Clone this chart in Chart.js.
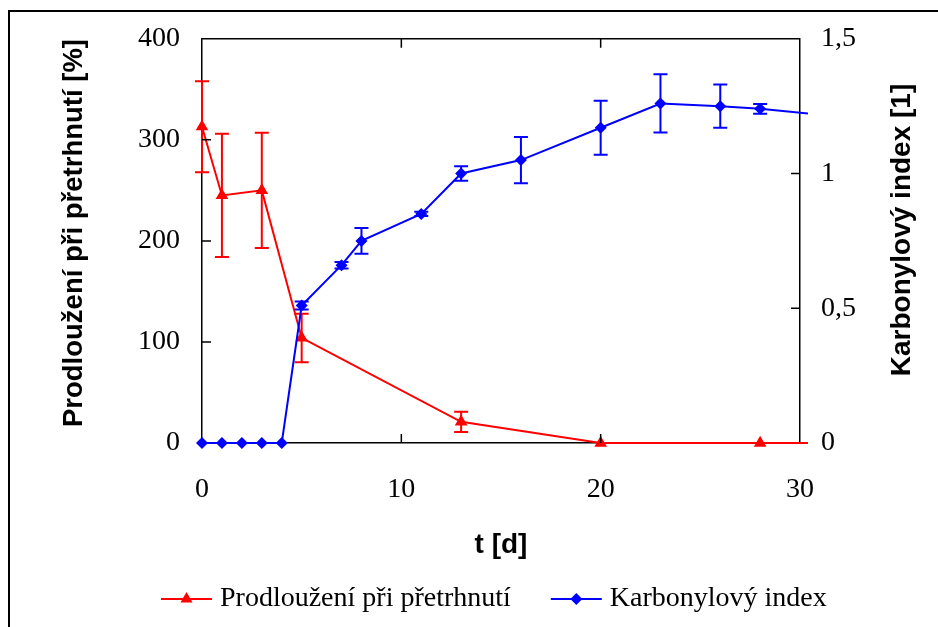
<!DOCTYPE html>
<html>
<head>
<meta charset="utf-8">
<script src="https://cdn.jsdelivr.net/npm/chart.js@4.4.0/dist/chart.umd.min.js"></script>
<style>
  html, body { margin: 0; padding: 0; background: #fff; }
</style>
</head>
<body>
<canvas id="graf" width="938" height="627"></canvas>
<script>
// prodlouzeni pri pretrhnuti [%]
const dnyProdlouzeni = [0, 1, 3, 5, 13, 20, 28, 35];
const prodlouzeni = [313, 245, 250, 104, 21, 0, 0, 0];
const prodlouzeniChyba = [45, 61, 57, 24, 10, 0, 0, 0];

// karbonylovy index [1]
const dnyKarbonyl = [0, 1, 2, 3, 4, 5, 7, 8, 11, 13, 16, 20, 23, 26, 28, 35];
const karbonyl = [0, 0, 0, 0, 0, 0.51, 0.66, 0.75, 0.85, 1.0, 1.05, 1.17, 1.26, 1.25, 1.24, 1.19];
const karbonylChyba = [0, 0, 0, 0, 0, 0.015, 0.012, 0.048, 0.008, 0.027, 0.086, 0.10, 0.108, 0.08, 0.018, 0];

const xTicks = [0, 10, 20, 30];
const levyTicks = [0, 100, 200, 300, 400];
const pravyTicks = [0, 0.5, 1, 1.5];

const nazevRed = "Prodloužení při přetrhnutí";
const nazevBlue = "Karbonylový index";

const serif = "'Liberation Serif', 'Times New Roman', serif";
const sans = "'Liberation Sans', Arial, sans-serif";

function body(xs, ys) {
  return xs.map((x, i) => ({ x: x, y: ys[i] }));
}

const chyby = [prodlouzeniChyba, karbonylChyba];

const doplnky = {
  id: "doplnky",
  beforeDraw(chart) {
    const ctx = chart.ctx;
    ctx.save();
    ctx.fillStyle = "#fff";
    ctx.fillRect(0, 0, chart.width, chart.height);
    ctx.strokeStyle = "#000";
    ctx.lineWidth = 2;
    ctx.strokeRect(9, 11, 1000, 1000);
    ctx.restore();
  },
  beforeDatasetDraw(chart, args) {
    const meta = chart.getDatasetMeta(args.index);
    const ds = chart.data.datasets[args.index];
    const err = chyby[args.index];
    const ctx = chart.ctx;
    ctx.save();
    ctx.strokeStyle = ds.borderColor;
    ctx.lineWidth = 2;
    ds.data.forEach((p, j) => {
      const e = err[j];
      if (!e || p.x > 30) return;
      const px = meta.xScale.getPixelForValue(p.x);
      const y1 = meta.yScale.getPixelForValue(p.y + e);
      const y2 = meta.yScale.getPixelForValue(p.y - e);
      ctx.beginPath();
      ctx.moveTo(px, y1); ctx.lineTo(px, y2);
      ctx.moveTo(px - 7, y1); ctx.lineTo(px + 7, y1);
      ctx.moveTo(px - 7, y2); ctx.lineTo(px + 7, y2);
      ctx.stroke();
    });
    ctx.restore();
  },
  afterDraw(chart) {
    const ctx = chart.ctx;
    const a = chart.chartArea;
    const sx = chart.scales.x, sl = chart.scales.y, sr = chart.scales.y2;
    ctx.save();
    ctx.strokeStyle = "#000";
    ctx.lineWidth = 1.5;
    ctx.beginPath();
    ctx.moveTo(a.left, a.top); ctx.lineTo(a.right, a.top);
    // ticks dovnitr
    xTicks.slice(1, -1).forEach(v => {
      const x = sx.getPixelForValue(v);
      ctx.moveTo(x, a.bottom); ctx.lineTo(x, a.bottom - 9);
      ctx.moveTo(x, a.top); ctx.lineTo(x, a.top + 9);
    });
    levyTicks.slice(1, -1).forEach(v => {
      const y = sl.getPixelForValue(v);
      ctx.moveTo(a.left, y); ctx.lineTo(a.left + 9, y);
    });
    pravyTicks.slice(1, -1).forEach(v => {
      const y = sr.getPixelForValue(v);
      ctx.moveTo(a.right, y); ctx.lineTo(a.right - 9, y);
    });
    ctx.stroke();

    // popisky os
    ctx.fillStyle = "#000";
    ctx.textAlign = "center";
    ctx.textBaseline = "alphabetic";
    ctx.save();
    ctx.font = "bold 27.5px " + sans;
    ctx.translate(82, 233);
    ctx.rotate(-Math.PI / 2);
    ctx.fillText("Prodloužení při přetrhnutí [%]", 0, 0);
    ctx.restore();
    ctx.save();
    ctx.font = "bold 28px " + sans;
    ctx.translate(910, 230);
    ctx.rotate(-Math.PI / 2);
    ctx.fillText("Karbonylový index [1]", 0, 0);
    ctx.restore();

    // legenda
    ctx.font = "28px " + serif;
    ctx.textAlign = "left";
    ctx.textBaseline = "middle";
    const ly = 599;
    const polozky = [
      { text: nazevRed, barva: "#ff0000", styl: "triangle", r: 7 },
      { text: nazevBlue, barva: "#0000ff", styl: "rectRot", r: 6 }
    ];
    let lx = 161;
    polozky.forEach(p => {
      ctx.strokeStyle = p.barva;
      ctx.fillStyle = p.barva;
      ctx.lineWidth = 2;
      ctx.beginPath();
      ctx.moveTo(lx, ly); ctx.lineTo(lx + 51, ly);
      ctx.stroke();
      Chart.helpers.drawPoint(ctx, { pointStyle: p.styl, radius: p.r, borderWidth: 0, rotation: 0 }, lx + 25.5, ly);
      ctx.fillStyle = "#000";
      ctx.fillText(p.text, lx + 59, ly);
      lx += 59 + ctx.measureText(p.text).width + 40;
    });
    ctx.restore();
  }
};

new Chart(document.getElementById("graf"), {
  type: "line",
  data: {
    datasets: [
      {
        label: nazevRed,
        data: body(dnyProdlouzeni, prodlouzeni),
        yAxisID: "y",
        borderColor: "#ff0000",
        backgroundColor: "#ff0000",
        borderWidth: 2,
        pointStyle: "triangle",
        pointRadius: 7.3,
        pointBorderWidth: 0,
        order: 2,
        clip: { left: 20, top: 20, right: 8, bottom: 20 }
      },
      {
        label: nazevBlue,
        data: body(dnyKarbonyl, karbonyl),
        yAxisID: "y2",
        borderColor: "#0000ff",
        backgroundColor: "#0000ff",
        borderWidth: 2,
        pointStyle: "rectRot",
        pointRadius: 6,
        pointBorderWidth: 0,
        order: 1,
        clip: { left: 20, top: 20, right: 8, bottom: 20 }
      }
    ]
  },
  options: {
    responsive: false,
    animation: false,
    layout: { padding: { left: 0, right: 0, top: 36, bottom: 57 } },
    plugins: { legend: { display: false }, tooltip: { enabled: false } },
    scales: {
      x: {
        type: "linear",
        min: 0,
        max: 30,
        afterBuildTicks: s => { s.ticks = xTicks.map(v => ({ value: v })); },
        afterFit: s => { s.height = 127; },
        grid: { display: false, drawTicks: false },
        border: { display: true, color: "#000", width: 1.5 },
        ticks: { color: "#000", font: { family: serif, size: 28 }, padding: 30 },
        title: {
          display: true,
          text: "t [d]",
          color: "#000",
          font: { family: sans, size: 28, weight: "bold" },
          padding: { top: 0, bottom: 8 }
        }
      },
      y: {
        type: "linear",
        position: "left",
        min: 0,
        max: 400,
        afterBuildTicks: s => { s.ticks = levyTicks.map(v => ({ value: v })); },
        afterFit: s => { s.width = 202; },
        grid: { display: false, drawTicks: false },
        border: { display: true, color: "#000", width: 1.5 },
        ticks: { color: "#000", font: { family: serif, size: 28 }, padding: 22 }
      },
      y2: {
        type: "linear",
        position: "right",
        min: 0,
        max: 1.5,
        afterBuildTicks: s => { s.ticks = pravyTicks.map(v => ({ value: v })); },
        afterFit: s => { s.width = 138; },
        grid: { display: false, drawTicks: false },
        border: { display: true, color: "#000", width: 1.5 },
        ticks: {
          color: "#000",
          font: { family: serif, size: 28 },
          padding: 21,
          callback: v => String(v).replace(".", ",")
        }
      }
    }
  },
  plugins: [doplnky]
});
</script>
</body>
</html>
